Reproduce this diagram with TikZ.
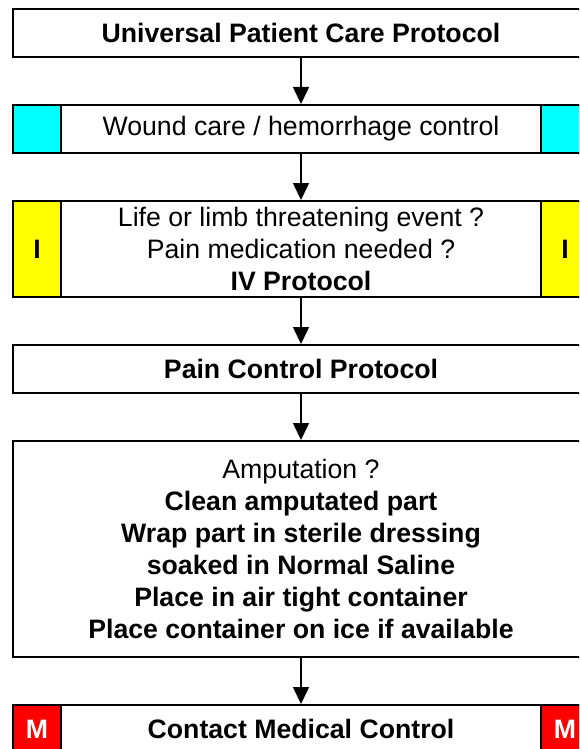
\documentclass[tikz,border=0pt]{standalone}
\usepackage{fontspec}
\setmainfont{Liberation Sans}
\usetikzlibrary{arrows.meta}
\definecolor{cellcyan}{HTML}{00FFFF}
\definecolor{cellyellow}{HTML}{FFFF00}
\definecolor{cellred}{HTML}{FF0000}
\begin{document}
\begin{tikzpicture}[x=0.75pt,y=-0.75pt,
  box/.style={rectangle, draw=black, line width=1.5pt, fill=white,
    minimum width=432pt, inner sep=0pt, align=center,
    font=\fontsize{20}{24}\selectfont},
  sidecell/.style={rectangle, draw=black, line width=1.5pt,
    minimum width=36pt, inner sep=0pt,
    font=\fontsize{20}{24}\selectfont\bfseries},
  flow/.style={line width=1.2pt, -{Triangle[width=12pt,length=12.75pt]}}]
\useasboundingbox (0,0) rectangle (579,749);
\clip (0,0) rectangle (579,749);

\node[box, minimum height=36pt] (b1) at (301,33) {\textbf{Universal Patient Care Protocol}};
\node[box, minimum height=36pt] (b2) at (301,129) {Wound care / hemorrhage control};
\node[box, minimum height=72pt] (b3) at (301,249) {Life or limb threatening event ?\\Pain medication needed ?\\\textbf{IV Protocol}};
\node[box, minimum height=36pt] (b4) at (301,369) {\textbf{Pain Control Protocol}};
\node[box, minimum height=162pt] (b5) at (301,549) {Amputation ?\\\textbf{Clean amputated part}\\\textbf{Wrap part in sterile dressing}\\\textbf{soaked in Normal Saline}\\\textbf{Place in air tight container}\\\textbf{Place container on ice if available}};
\node[box, minimum height=36pt] (b6) at (301,729) {\textbf{Contact Medical Control}};

\node[sidecell, fill=cellcyan, minimum height=36pt, anchor=west] (c2l) at (b2.west) {};
\node[sidecell, fill=cellcyan, minimum height=36pt, anchor=east] (c2r) at (b2.east) {};
\node[sidecell, fill=cellyellow, minimum height=72pt, anchor=west] (c3l) at (b3.west) {I};
\node[sidecell, fill=cellyellow, minimum height=72pt, anchor=east] (c3r) at (b3.east) {I};
\node[sidecell, fill=cellred, text=white, minimum height=36pt, anchor=west] (c6l) at (b6.west) {M};
\node[sidecell, fill=cellred, text=white, minimum height=36pt, anchor=east] (c6r) at (b6.east) {M};

\draw[flow] (b1) -- (b2);
\draw[flow] (b2) -- (b3);
\draw[flow] (b3) -- (b4);
\draw[flow] (b4) -- (b5);
\draw[flow] (b5) -- (b6);
\end{tikzpicture}
\end{document}
